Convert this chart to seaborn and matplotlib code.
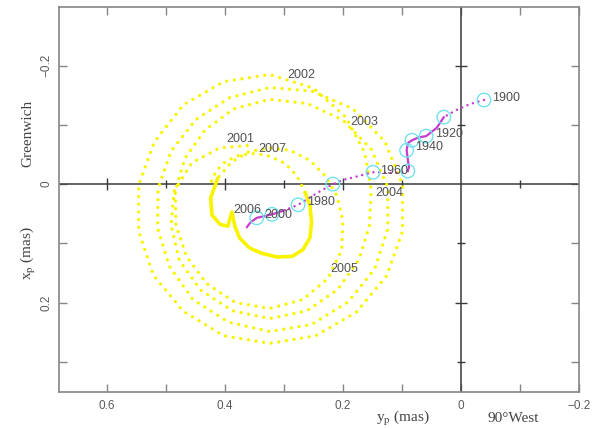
import matplotlib
matplotlib.use("Agg")
import matplotlib.pyplot as plt
import pandas as pd
import seaborn as sns

sns.set_style("white")
plt.rcParams["font.family"] = ["Liberation Sans", "DejaVu Sans"]
plt.rcParams["mathtext.fontset"] = "stix"

# ---- Pole path 2001-2007 (arcsec): y_p (towards 90 deg W) and x_p (towards Greenwich)
# wide dotted loops, 2001.0 through the end of 2005
pm_yp = [0.362, 0.409, 0.456, 0.486, 0.491, 0.477, 0.441, 0.387, 0.324, 0.261, 0.209, 0.173,
         0.155, 0.152, 0.163, 0.195, 0.250, 0.324,
         0.402, 0.470, 0.519, 0.546, 0.546, 0.521, 0.470, 0.402, 0.324, 0.246, 0.177, 0.126,
         0.099, 0.099, 0.129, 0.183, 0.252, 0.324,
         0.392, 0.449, 0.491, 0.513, 0.514, 0.494, 0.454, 0.394, 0.324, 0.253, 0.191, 0.146,
         0.124, 0.124, 0.152, 0.200, 0.260, 0.324,
         0.385, 0.434, 0.468, 0.484, 0.483, 0.465, 0.431, 0.382, 0.324, 0.268, 0.225, 0.202,
         0.200, 0.210, 0.230, 0.256, 0.289, 0.324, 0.359, 0.389, 0.412]
pm_xp = [-0.065, -0.061, -0.036, 0.012, 0.070, 0.129, 0.179, 0.214, 0.227, 0.214, 0.178, 0.128,
         0.070, 0.010, -0.053, -0.113, -0.162, -0.185,
         -0.173, -0.134, -0.072, 0.001, 0.080, 0.154, 0.215, 0.256, 0.269, 0.256, 0.216, 0.155,
         0.080, 0.001, -0.072, -0.127, -0.157, -0.163,
         -0.146, -0.109, -0.056, 0.007, 0.074, 0.139, 0.195, 0.233, 0.249, 0.237, 0.199, 0.143,
         0.076, 0.005, -0.059, -0.108, -0.136, -0.143,
         -0.127, -0.091, -0.043, 0.012, 0.069, 0.122, 0.168, 0.200, 0.210, 0.195, 0.159, 0.111,
         0.062, 0.020, -0.014, -0.040, -0.057, -0.061, -0.055, -0.037, -0.010]
# small, slow loop of 2006 (daily points merge into a solid trace)
slow_yp = [0.412, 0.424, 0.422, 0.408, 0.395, 0.388, 0.383, 0.375, 0.358, 0.337, 0.312,
           0.286, 0.268, 0.256, 0.253, 0.256, 0.264]
slow_xp = [-0.010, 0.023, 0.052, 0.068, 0.071, 0.047, 0.071, 0.091, 0.108, 0.117, 0.123,
           0.122, 0.111, 0.091, 0.064, 0.035, 0.014]
# growing again into 2007
late_yp = [0.264, 0.278, 0.298, 0.324, 0.349, 0.375, 0.398, 0.415, 0.424]
late_xp = [0.014, -0.014, -0.035, -0.047, -0.052, -0.049, -0.039, -0.022, -0.002]

# ---- Mean pole 1900-2006
mp_yp = [-0.039, -0.015, 0.008, 0.029, 0.041, 0.059, 0.071, 0.083, 0.090, 0.092, 0.090,
         0.088, 0.090, 0.102, 0.120, 0.149, 0.180, 0.200, 0.217, 0.242, 0.276, 0.298,
         0.320, 0.346, 0.356, 0.363]
mp_xp = [-0.142, -0.135, -0.125, -0.113, -0.095, -0.081, -0.079, -0.074, -0.069, -0.057, -0.041,
         -0.029, -0.022, -0.019, -0.019, -0.020, -0.012, -0.007, 0.000, 0.014, 0.035, 0.044,
         0.051, 0.057, 0.064, 0.073]
# decade marks on the mean-pole path
decade_years = [1900, 1910, 1920, 1930, 1940, 1950, 1960, 1970, 1980, 1990, 2000]
decade_yp = [-0.039, 0.029, 0.059, 0.083, 0.092, 0.090, 0.149, 0.217, 0.276, 0.320, 0.346]
decade_xp = [-0.142, -0.113, -0.081, -0.074, -0.057, -0.022, -0.020, 0.000, 0.035, 0.051, 0.057]

# year annotations: text and where it sits (y_p, x_p)
year_text = ["2001", "2002", "2003", "2004", "2005", "2006", "2007",
             "1900", "1920", "1940", "1960", "1980", "2000"]
year_yp = [0.373, 0.271, 0.163, 0.122, 0.198, 0.362, 0.319,
           -0.076, 0.020, 0.054, 0.114, 0.237, 0.310]
year_xp = [-0.076, -0.184, -0.105, 0.015, 0.144, 0.044, -0.059,
           -0.145, -0.084, -0.063, -0.022, 0.030, 0.053]

x_major = [0.6, 0.4, 0.2, 0.0, -0.2]
x_major_labels = ["0.6", "0.4", "0.2", "0", "\u22120.2"]
x_minor = [0.5, 0.3, 0.1, -0.1]
y_major = [-0.2, 0.0, 0.2]
y_major_labels = ["\u22120.2", "0", "0.2"]
y_minor = [-0.1, 0.1, 0.3]

YELLOW = "#f8f400"
MAGENTA = "#c63ccf"
CYAN = "#72e2ec"
FRAME = "#858585"
AXIS = "#3a3a3a"
TEXT = "#505050"

fig = plt.figure(figsize=(5.99, 4.29), dpi=100)
ax = fig.add_axes([59 / 599, 1 - 392 / 429, 520 / 599, 385 / 429])

# reference cross through the pole origin
ax.axhline(0, color=AXIS, lw=1.1, zorder=1)
ax.axvline(0, color=AXIS, lw=1.1, zorder=1)
ax.plot(x_major[:3], [0] * 3, ls="none", marker="|", ms=9, mew=1.0, color=AXIS, zorder=1)
ax.plot(x_minor, [0] * len(x_minor), ls="none", marker="|", ms=6, mew=1.0, color=AXIS, zorder=1)
ax.plot([0, 0], [-0.2, 0.2], ls="none", marker="_", ms=9, mew=1.0, color=AXIS, zorder=1)
ax.plot([0] * len(y_minor), y_minor, ls="none", marker="_", ms=6, mew=1.0, color=AXIS, zorder=1)

dot = (0, (0.01, 2.3))
common = dict(sort=False, estimator=None, ax=ax)
sns.lineplot(x=pm_yp, y=pm_xp, color=YELLOW, lw=2.4, linestyle=dot,
             dash_capstyle="round", zorder=2, **common)
sns.lineplot(x=late_yp, y=late_xp, color=YELLOW, lw=2.4, linestyle=dot,
             dash_capstyle="round", zorder=2, **common)
sns.lineplot(x=slow_yp, y=slow_xp, color=YELLOW, lw=2.6, solid_capstyle="round",
             solid_joinstyle="round", zorder=2, **common)

# mean pole: dotted and solid stretches
mdot = (0, (0.01, 2.3))
sns.lineplot(x=mp_yp[0:4], y=mp_xp[0:4], color=MAGENTA, lw=1.8, linestyle=mdot,
             dash_capstyle="round", zorder=3, **common)
sns.lineplot(x=mp_yp[3:13], y=mp_xp[3:13], color=MAGENTA, lw=1.6, zorder=3, **common)
sns.lineplot(x=mp_yp[12:22], y=mp_xp[12:22], color=MAGENTA, lw=1.8, linestyle=mdot,
             dash_capstyle="round", zorder=3, **common)
sns.lineplot(x=mp_yp[21:], y=mp_xp[21:], color=MAGENTA, lw=1.6, zorder=3, **common)

sns.scatterplot(x=decade_yp, y=decade_xp, marker="o", s=95, facecolor="none",
                edgecolor=CYAN, linewidth=1.0, zorder=4, ax=ax)

for t, yv, xv in zip(year_text, year_yp, year_xp):
    ax.text(yv, xv, t, ha="center", va="center", fontsize=9, color=TEXT, zorder=5)

ax.set_xlim(0.681, -0.2)
ax.set_ylim(0.351, -0.299)
ax.set_xticks(x_major, labels=x_major_labels)
ax.set_xticks(x_minor, minor=True)
ax.set_yticks(y_major, labels=y_major_labels)
ax.set_yticks(y_minor, minor=True)
ax.tick_params(which="both", direction="in", length=6, width=1.0, color=FRAME,
               top=True, right=True, bottom=True, left=True)
ax.tick_params(axis="x", labelsize=8.5, labelcolor="#5a5a5a", pad=6)
ax.tick_params(axis="y", labelsize=8.5, labelcolor="#5a5a5a", pad=5)
for lab in ax.get_yticklabels():
    lab.set_rotation(90)
    lab.set_va("center")
for sp in ax.spines.values():
    sp.set_color(FRAME)
    sp.set_linewidth(1.2)
ax.set_xlabel("")
ax.set_ylabel("")

serif = dict(family=["Liberation Serif", "DejaVu Serif"], fontsize=11, color="#444444")
fig.text(28 / 599, 1 - 133 / 429, "Greenwich", rotation=90, ha="center", va="center", **serif)
fig.text(28 / 599, 1 - 253 / 429, r"x$_{\rm p}$ (mas)", rotation=90, ha="center", va="center", **serif)
fig.text(403 / 599, 1 - 419 / 429, r"y$_{\rm p}$ (mas)", ha="center", va="center", **serif)
fig.text(513 / 599, 1 - 419 / 429, "90\u00b0West", ha="center", va="center", **serif)

fig.savefig("out.png", dpi=100)
